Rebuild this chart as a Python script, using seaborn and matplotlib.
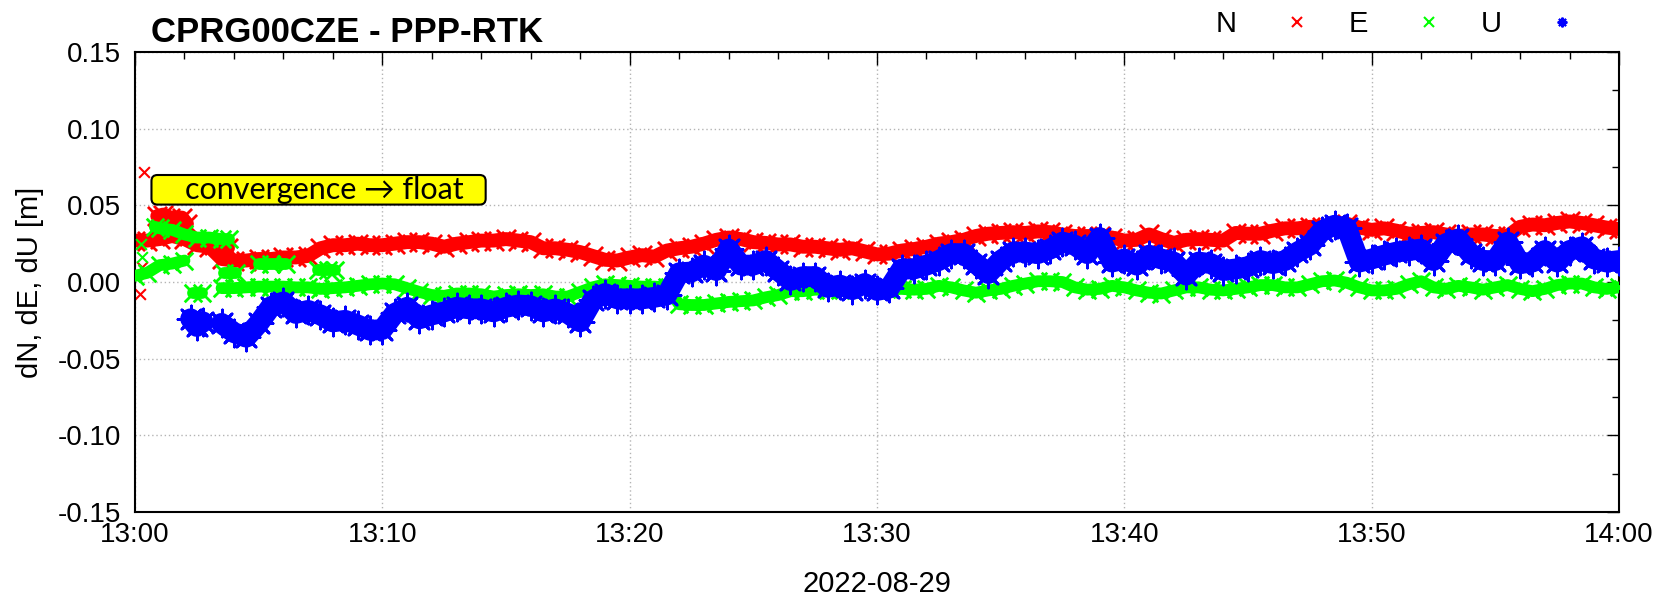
import numpy as np
import pandas as pd
import matplotlib
matplotlib.use("Agg")
import matplotlib.pyplot as plt
import matplotlib.dates as mdates
from matplotlib.ticker import MultipleLocator, FormatStrFormatter
from matplotlib.lines import Line2D
from matplotlib.patches import FancyBboxPatch
import seaborn as sns

sns.set_theme(style="white")
plt.rcParams['font.family'] = ['Liberation Sans', 'DejaVu Sans']
plt.rcParams['axes.unicode_minus'] = False
for key in ['text.color', 'axes.labelcolor', 'xtick.color', 'ytick.color']:
    plt.rcParams[key] = 'black'

START = pd.Timestamp("2022-08-29 13:00:00")

# one solution every 30 s, minutes after 13:00; values in mm
minutes = np.arange(121) * 0.5
nan = np.nan

dN = [27, 27, 28, 30, 28, 24, 23, 15, 14, 14,
      15, 15, 16, 16, 17, 22, 24, 24, 25, 24,
      24, 25, 26, 26, 25, 23, 25, 26, 27, 27,
      28, 27, 26, 22, 22, 21, 19.5, 17, 14.5, 14,
      16, 17.5, 16.5, 20.5, 22, 23, 25, 27.5, 29, 28,
      26, 25.5, 24.5, 24.5, 23, 23, 22, 21, 22, 20,
      18, 18.5, 20.5, 21.5, 23, 25, 26, 27.5, 30, 31.5,
      32, 32.5, 32, 33, 32.5, 31, 30, 30, 30, 29,
      27, 27.5, 31, 28, 25.5, 27.5, 28, 27.5, 27, 32,
      31.5, 31.5, 33.5, 35, 35, 36, 36, 37, 38, 35.5,
      34, 35, 33.5, 31.5, 32, 32.5, 31, 30, 31, 31,
      30, 30, 36, 37.5, 37, 38.5, 39.5, 38.5, 37, 35.5,
      34.5]

dE = [4, 6, 11, 12, 14, nan, nan, -4, -4, -3.5,
      -3, -3, -3, -3.5, -3.5, -4.5, -4, -3.5, -2.5, -1.5,
      -1, -1.5, -4, -6.5, -8.5, -9, -7.5, -7.5, -8, -9.5,
      -8.5, -8, -8.5, -8, -9.5, -9.5, -6.5, -3.5, -1.5, -2,
      -2.5, -3, -3, -3.5, -14.5, -15, -15, -14, -13, -12.5,
      -12, -10, -8.5, -6, -6, -5, -5, -5, -5, -4.5,
      -4.5, -4.5, -4.5, -5, -4.5, -2.5, -3.5, -5.5, -7, -5.5,
      -4.5, -2.5, -1, 0.5, 0.5, 0, -3.5, -5, -4.5, -2.5,
      -3.5, -5.5, -7, -7.5, -5.5, -3.5, -3.5, -5, -5.5, -4.5,
      -3.5, -2, -2, -3.5, -3.5, -1.5, 0.5, 1, -0.5, -3.5,
      -5.5, -5.5, -4.5, -1.5, 0.5, -3.5, -4.5, -2.5, -3.5, -5,
      -3.5, -2, -4.5, -6, -4.5, -2, -1, -1, -3.5, -4.5,
      -3.5]

dU = [nan, nan, nan, nan, nan, nan, nan, -27, -33, -36,
      -27, -16, -13, -20.5, -18.5, -21.5, -26, -25, -28, -31.5,
      -31, -20.5, -16.5, -24, -21.5, -19.5, -16.5, -17.5, -17.5, -19.5,
      -16.5, -15, -15.5, -19.5, -17.5, -20.5, -26, -12, -7.5, -11,
      -11, -11, -10, -8.5, 6, 6.5, 11, 7.5, 21.5, 11,
      11, 14, 7.5, 1, 3.5, 3.5, -3.5, -2, -5, -1,
      -5.5, -4, 8.5, 8.5, 11, 14, 18.5, 18.5, 12, 5.5,
      14, 19.5, 19.5, 18.5, 21.5, 26, 24, 18.5, 29, 13,
      15, 11, 17.5, 15, 13, 4.5, 13, 12, 7.5, 8.5,
      10, 14, 12, 14, 19.5, 24, 33.5, 37, 35, 13,
      15, 17.5, 19.5, 20.5, 21.5, 14, 25, 28, 18.5, 14,
      14, 26, 12, 13, 20.5, 13, 20.5, 23, 15, 13,
      14]

# extra solutions during convergence (float), minutes and mm
dN_conv_min = [0.2, 0.3, 0.35, 0.9, 1.15, 1.4, 1.9, 2.1, 3.5, 3.75]
dN_conv = [-7.5, 10, 72, 43, 44, 42, 42, 38, 22, 22]
dE_conv_min = [0.25, 0.3, 0.8, 1.0, 1.5, 2.0, 2.5, 3.0, 3.5, 3.8,
               2.35, 2.7, 3.6, 4.1, 5.0, 5.5, 6.1, 7.4, 7.8, 8.1]
dE_conv = [25, 16, 36, 35, 34, 31, 29, 29, 28, 28,
           -7, -7, 6, 6, 12, 12, 12, 8, 8, 8]
dU_conv_min = [2.25, 2.5, 2.75]
dU_conv = [-24, -29, -26]


def frame(mins, vals, jump=None):
    df = pd.DataFrame({"min": mins, "val": np.asarray(vals, dtype=float) / 1000.0})
    brk = df["val"].isna() | (df["min"].diff().abs() > 0.6)
    if jump is not None:
        brk |= df["val"].diff().abs() > jump
    df["seg"] = brk.cumsum()
    df = df.dropna(subset=["val"]).copy()
    df["time"] = START + pd.to_timedelta(df["min"], unit="min")
    df["lone"] = df.groupby("seg")["val"].transform("size") == 1
    return df


fig = plt.figure(figsize=(16.62, 5.99), dpi=100)
ax = fig.add_axes([135 / 1662, 87 / 599, 1484 / 1662, 460 / 599])

# name, colour, marker, band width (pt), marker area, values, convergence extras
series = [
    ("N", "#ff0000", "x", 10, 190, dN, dN_conv_min, dN_conv),
    ("E", "#00ff00", "x", 8.5, 160, dE, dE_conv_min, dE_conv),
    ("U", "#0000ff", (8, 2, 0), 15, 380, dU, dU_conv_min, dU_conv),
]
for z, (name, col, mk, band, ms, vals, cmin, cvals) in enumerate(series, start=2):
    for df in (frame(minutes, vals), frame(cmin, cvals, jump=0.008)):
        run = df[~df["lone"]]
        lone = df[df["lone"]]
        if len(run):
            sns.lineplot(data=run, x="time", y="val", units="seg", estimator=None, sort=False,
                         color=col, lw=band, solid_capstyle="round", solid_joinstyle="round",
                         ax=ax, legend=False, zorder=z)
            sns.scatterplot(data=run, x="time", y="val", marker=mk, s=ms, color=col,
                            linewidth=2, ax=ax, legend=False, zorder=z)
        if len(lone):
            sns.scatterplot(data=lone, x="time", y="val", marker=mk, s=60, color=col,
                            linewidth=1.5, ax=ax, legend=False, zorder=z)

ax.set_xlim(START, START + pd.Timedelta(hours=1))
ax.set_ylim(-0.15, 0.15)
ax.xaxis.set_major_locator(mdates.MinuteLocator(byminute=range(0, 60, 10)))
ax.xaxis.set_minor_locator(mdates.MinuteLocator(byminute=range(0, 60, 2)))
ax.xaxis.set_major_formatter(mdates.DateFormatter("%H:%M"))
ax.yaxis.set_major_locator(MultipleLocator(0.05))
ax.yaxis.set_minor_locator(MultipleLocator(0.025))
ax.yaxis.set_major_formatter(FormatStrFormatter("%.2f"))

ax.set_axisbelow(True)
ax.grid(True, which="major", color="#b4b4b4", linestyle=(0, (1, 2)), linewidth=1.0)
ax.tick_params(which="both", direction="in", top=True, right=True, labelsize=20, colors="black")
ax.tick_params(which="major", length=9, width=1)
ax.tick_params(which="minor", length=5, width=1)
ax.tick_params(axis="y", pad=10)
ax.tick_params(axis="x", pad=7)
for sp in ax.spines.values():
    sp.set_color("black")
    sp.set_linewidth(1.5)

ax.set_xlabel("2022-08-29", fontsize=21, labelpad=16)
ax.set_ylabel("dN, dE, dU [m]", fontsize=21, labelpad=10)

fig.text(151 / 1662, 1 - 42 / 599, "CPRG00CZE - PPP-RTK", fontsize=25,
         fontweight="bold", ha="left", va="baseline")

handles = [Line2D([], [], ls="none", marker=s[2], color=s[1], markersize=7, mew=1.5)
           for s in series]
ax.legend(handles, [s[0] for s in series], ncol=3, markerfirst=False, frameon=False,
          loc="center right", bbox_to_anchor=(1577 / 1662, 1 - 24 / 599),
          bbox_transform=fig.transFigure, fontsize=21, handlelength=1.0,
          handletextpad=1.57, columnspacing=1.29, borderpad=0, borderaxespad=0)

# convergence label box
box = FancyBboxPatch((0.0111, 0.6683), 0.2252, 0.0643, transform=ax.transAxes,
                     boxstyle="round,pad=0,rounding_size=0.004", mutation_aspect=1484 / 460,
                     facecolor="#ffff00", edgecolor="black", linewidth=1.5, zorder=6)
ax.add_patch(box)
ax.text(0.1277, 0.700, "convergence \u2192 float", transform=ax.transAxes,
        fontsize=22, family=["Lato", "DejaVu Sans"], ha="center", va="center", zorder=7)

fig.savefig("out.png", dpi=100)
